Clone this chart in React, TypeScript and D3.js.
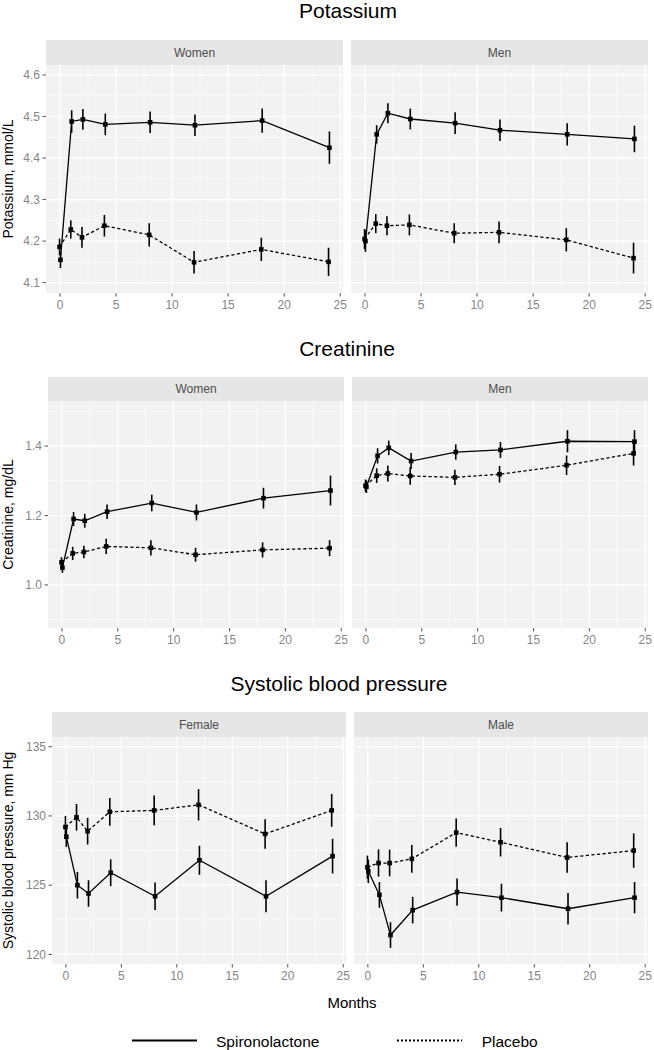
import React, { useRef, useEffect } from "react";
import * as d3 from "d3";

/* x = months since randomisation */
const MONTHS = [0, 1, 2, 4, 8, 12, 18, 24];
const X_TICKS = [0, 5, 10, 15, 20, 25];
const X_MINOR = [2.5, 7.5, 12.5, 17.5, 22.5];
const TREATMENTS = ["Spironolactone", "Placebo"];

/* potassium, mmol/L (mean, half CI) */
const K_WOMEN_SPIRO = [4.155, 4.488, 4.493, 4.481, 4.486, 4.479, 4.49, 4.425];
const K_WOMEN_SPIRO_CI = [0.02, 0.027, 0.025, 0.026, 0.026, 0.026, 0.029, 0.039];
const K_WOMEN_PLAC = [4.186, 4.228, 4.209, 4.237, 4.215, 4.149, 4.18, 4.15];
const K_WOMEN_PLAC_CI = [0.02, 0.022, 0.025, 0.026, 0.028, 0.027, 0.028, 0.034];
const K_MEN_SPIRO = [4.2, 4.457, 4.508, 4.494, 4.484, 4.467, 4.457, 4.446];
const K_MEN_SPIRO_CI = [0.026, 0.022, 0.024, 0.025, 0.026, 0.026, 0.027, 0.032];
const K_MEN_PLAC = [4.205, 4.242, 4.237, 4.239, 4.219, 4.221, 4.203, 4.159];
const K_MEN_PLAC_CI = [0.024, 0.023, 0.023, 0.025, 0.024, 0.026, 0.028, 0.037];
const K_TICKS = [4.1, 4.2, 4.3, 4.4, 4.5, 4.6];
const K_MINOR = [4.15, 4.25, 4.35, 4.45, 4.55];

/* creatinine, mg/dL */
const CR_WOMEN_SPIRO = [1.05, 1.19, 1.185, 1.211, 1.236, 1.209, 1.25, 1.272];
const CR_WOMEN_SPIRO_CI = [0.015, 0.02, 0.02, 0.021, 0.024, 0.023, 0.03, 0.043];
const CR_WOMEN_PLAC = [1.065, 1.091, 1.095, 1.111, 1.107, 1.087, 1.101, 1.106];
const CR_WOMEN_PLAC_CI = [0.015, 0.019, 0.018, 0.022, 0.022, 0.02, 0.022, 0.023];
const CR_MEN_SPIRO = [1.283, 1.372, 1.395, 1.357, 1.383, 1.389, 1.414, 1.413];
const CR_MEN_SPIRO_CI = [0.018, 0.022, 0.021, 0.023, 0.022, 0.023, 0.032, 0.033];
const CR_MEN_PLAC = [1.286, 1.315, 1.321, 1.314, 1.31, 1.319, 1.345, 1.379];
const CR_MEN_PLAC_CI = [0.018, 0.021, 0.023, 0.025, 0.022, 0.024, 0.028, 0.035];
const CR_TICKS = [1.0, 1.2, 1.4];
const CR_MINOR = [0.9, 1.1, 1.3, 1.5];

/* systolic blood pressure, mm Hg */
const BP_FEMALE_SPIRO = [128.5, 125.0, 124.4, 125.9, 124.2, 126.8, 124.2, 127.1];
const BP_FEMALE_SPIRO_CI = [0.75, 0.96, 0.96, 0.97, 1.0, 1.05, 1.15, 1.25];
const BP_FEMALE_PLAC = [129.2, 129.9, 128.9, 130.3, 130.4, 130.8, 128.7, 130.4];
const BP_FEMALE_PLAC_CI = [0.8, 0.96, 0.96, 1.0, 1.07, 1.13, 1.07, 1.18];
const BP_MALE_SPIRO = [126.0, 124.3, 121.4, 123.2, 124.5, 124.1, 123.3, 124.1];
const BP_MALE_SPIRO_CI = [0.84, 0.93, 0.93, 0.96, 0.99, 1.0, 1.14, 1.13];
const BP_MALE_PLAC = [126.3, 126.6, 126.6, 126.9, 128.8, 128.1, 127.0, 127.5];
const BP_MALE_PLAC_CI = [0.84, 0.98, 0.96, 1.0, 1.02, 1.03, 1.1, 1.24];
const BP_TICKS = [120, 125, 130, 135];
const BP_MINOR = [122.5, 127.5, 132.5];

const FONT = "'Liberation Sans', Arial, Helvetica, sans-serif";
const W = 654;
const H = 1050;
const RIGHT = 648;
const GAP = 8;
const X_DOMAIN = [-1.25, 25.25];
const DODGE = 0.04;

export default function App() {
  const svgRef = useRef<SVGSVGElement>(null);

  useEffect(() => {
    document.body.style.margin = "0";

    const sections = [
      {
        title: "Potassium", titleX: 348, titleY: 17.5, yLabel: "Potassium, mmol/L",
        left: 46, stripTop: 40, top: 65, bottom: 293,
        yDomain: [4.075, 4.624], yTicks: K_TICKS, yMinor: K_MINOR, fmt: d3.format(".1f"),
        panels: [
          { label: "Women", series: [[K_WOMEN_SPIRO, K_WOMEN_SPIRO_CI], [K_WOMEN_PLAC, K_WOMEN_PLAC_CI]] },
          { label: "Men", series: [[K_MEN_SPIRO, K_MEN_SPIRO_CI], [K_MEN_PLAC, K_MEN_PLAC_CI]] },
        ],
      },
      {
        title: "Creatinine", titleX: 347, titleY: 356, yLabel: "Creatinine, mg/dL",
        left: 48, stripTop: 377, top: 401, bottom: 628,
        yDomain: [0.876, 1.53], yTicks: CR_TICKS, yMinor: CR_MINOR, fmt: d3.format(".1f"),
        panels: [
          { label: "Women", series: [[CR_WOMEN_SPIRO, CR_WOMEN_SPIRO_CI], [CR_WOMEN_PLAC, CR_WOMEN_PLAC_CI]] },
          { label: "Men", series: [[CR_MEN_SPIRO, CR_MEN_SPIRO_CI], [CR_MEN_PLAC, CR_MEN_PLAC_CI]] },
        ],
      },
      {
        title: "Systolic blood pressure", titleX: 339, titleY: 691, yLabel: "Systolic blood pressure, mm Hg",
        left: 52, stripTop: 712, top: 737, bottom: 964,
        yDomain: [119.31, 135.7], yTicks: BP_TICKS, yMinor: BP_MINOR, fmt: d3.format("d"),
        panels: [
          { label: "Female", series: [[BP_FEMALE_SPIRO, BP_FEMALE_SPIRO_CI], [BP_FEMALE_PLAC, BP_FEMALE_PLAC_CI]] },
          { label: "Male", series: [[BP_MALE_SPIRO, BP_MALE_SPIRO_CI], [BP_MALE_PLAC, BP_MALE_PLAC_CI]] },
        ],
      },
    ];

    const svg = d3
      .select(svgRef.current)
      .attr("width", W)
      .attr("height", H)
      .style("display", "block")
      .style("background", "#fff")
      .style("font-family", FONT);
    svg.selectAll("*").remove();

    sections.forEach((sec) => {
      const pw = (RIGHT - sec.left - GAP) / 2;
      const y = d3.scaleLinear().domain(sec.yDomain).range([sec.bottom, sec.top]);

      /* ---- section title ---- */
      svg.append("text")
        .attr("x", sec.titleX).attr("y", sec.titleY)
        .attr("text-anchor", "middle")
        .style("font-size", "21px")
        .attr("fill", "#000")
        .text(sec.title);

      /* ---- y axis title ---- */
      svg.append("text")
        .attr("transform", `translate(13,${(sec.top + sec.bottom) / 2}) rotate(-90)`)
        .attr("text-anchor", "middle")
        .style("font-size", "14px")
        .attr("fill", "#000")
        .text(sec.yLabel);

      sec.panels.forEach((p, i) => {
        const x0 = sec.left + i * (pw + GAP);
        const x = d3.scaleLinear().domain(X_DOMAIN).range([x0, x0 + pw]);
        const g = svg.append("g");

        /* strip */
        g.append("rect")
          .attr("x", x0).attr("y", sec.stripTop)
          .attr("width", pw).attr("height", sec.top - sec.stripTop)
          .attr("fill", "#E6E6E6");
        g.append("text")
          .attr("x", x0 + pw / 2).attr("y", (sec.stripTop + sec.top) / 2 + 4.2)
          .attr("text-anchor", "middle")
          .style("font-size", "12px")
          .attr("fill", "#4D4D4D")
          .text(p.label);

        /* panel + grid */
        g.append("rect")
          .attr("x", x0).attr("y", sec.top)
          .attr("width", pw).attr("height", sec.bottom - sec.top)
          .attr("fill", "#F2F2F2");

        g.selectAll(".ymin").data(sec.yMinor).enter().append("line")
          .attr("x1", x0).attr("x2", x0 + pw)
          .attr("y1", (d) => y(d)).attr("y2", (d) => y(d))
          .attr("stroke", "#fff").attr("stroke-width", 0.6);
        g.selectAll(".xmin").data(X_MINOR).enter().append("line")
          .attr("x1", (d) => x(d)).attr("x2", (d) => x(d))
          .attr("y1", sec.top).attr("y2", sec.bottom)
          .attr("stroke", "#fff").attr("stroke-width", 0.6);
        g.selectAll(".ymaj").data(sec.yTicks).enter().append("line")
          .attr("x1", x0).attr("x2", x0 + pw)
          .attr("y1", (d) => y(d)).attr("y2", (d) => y(d))
          .attr("stroke", "#fff").attr("stroke-width", 1.2);
        g.selectAll(".xmaj").data(X_TICKS).enter().append("line")
          .attr("x1", (d) => x(d)).attr("x2", (d) => x(d))
          .attr("y1", sec.top).attr("y2", sec.bottom)
          .attr("stroke", "#fff").attr("stroke-width", 1.2);

        /* x ticks */
        const xt = g.selectAll(".xt").data(X_TICKS).enter().append("g");
        xt.append("line")
          .attr("x1", (d) => x(d)).attr("x2", (d) => x(d))
          .attr("y1", sec.bottom).attr("y2", sec.bottom + 3.5)
          .attr("stroke", "#555").attr("stroke-width", 1);
        xt.append("text")
          .attr("x", (d) => x(d)).attr("y", sec.bottom + 16)
          .attr("text-anchor", "middle")
          .style("font-size", "12px")
          .attr("fill", "#858585")
          .text((d) => d);

        /* y ticks only on the first panel */
        if (i === 0) {
          const yt = g.selectAll(".yt").data(sec.yTicks).enter().append("g");
          yt.append("line")
            .attr("x1", x0 - 3.5).attr("x2", x0)
            .attr("y1", (d) => y(d)).attr("y2", (d) => y(d))
            .attr("stroke", "#555").attr("stroke-width", 1);
          yt.append("text")
            .attr("x", x0 - 6).attr("y", (d) => y(d) + 4.2)
            .attr("text-anchor", "end")
            .style("font-size", "12px")
            .attr("fill", "#858585")
            .text((d) => sec.fmt(d));
        }

        /* series: spironolactone solid, placebo dashed */
        p.series.forEach(([mean, ci], s) => {
          const off = s === 0 ? DODGE : -DODGE;
          const pts = MONTHS.map((m, k) => ({ m: m + off, v: mean[k], e: ci[k] }));
          const line = d3.line<any>().x((d) => x(d.m)).y((d) => y(d.v));

          g.append("path")
            .datum(pts)
            .attr("d", line)
            .attr("fill", "none")
            .attr("stroke", "#000")
            .attr("stroke-width", 1.3)
            .attr("stroke-dasharray", s === 0 ? null : "3.2,2.4");

          g.selectAll(`.err${s}`).data(pts).enter().append("line")
            .attr("x1", (d) => x(d.m)).attr("x2", (d) => x(d.m))
            .attr("y1", (d) => y(d.v - d.e)).attr("y2", (d) => y(d.v + d.e))
            .attr("stroke", "#000").attr("stroke-width", 1.6);

          g.selectAll(`.pt${s}`).data(pts).enter().append("rect")
            .attr("x", (d) => x(d.m) - 2.3).attr("y", (d) => y(d.v) - 2.3)
            .attr("width", 4.6).attr("height", 4.6)
            .attr("fill", "#000");
        });
      });
    });

    /* ---- shared x title ---- */
    svg.append("text")
      .attr("x", 352).attr("y", 1008)
      .attr("text-anchor", "middle")
      .style("font-size", "15px")
      .attr("fill", "#000")
      .text("Months");

    /* ---- legend ---- */
    const legend = [
      { x: 132, dash: null },
      { x: 397, dash: "2,2" },
    ];
    legend.forEach((l, i) => {
      svg.append("line")
        .attr("x1", l.x).attr("x2", l.x + 65)
        .attr("y1", 1040.5).attr("y2", 1040.5)
        .attr("stroke", "#000").attr("stroke-width", 1.8)
        .attr("stroke-dasharray", l.dash);
      svg.append("text")
        .attr("x", l.x + 84 + i * 0.7).attr("y", 1047)
        .style("font-size", "15.5px")
        .attr("fill", "#000")
        .text(TREATMENTS[i]);
    });
  }, []);

  return <svg ref={svgRef} />;
}
